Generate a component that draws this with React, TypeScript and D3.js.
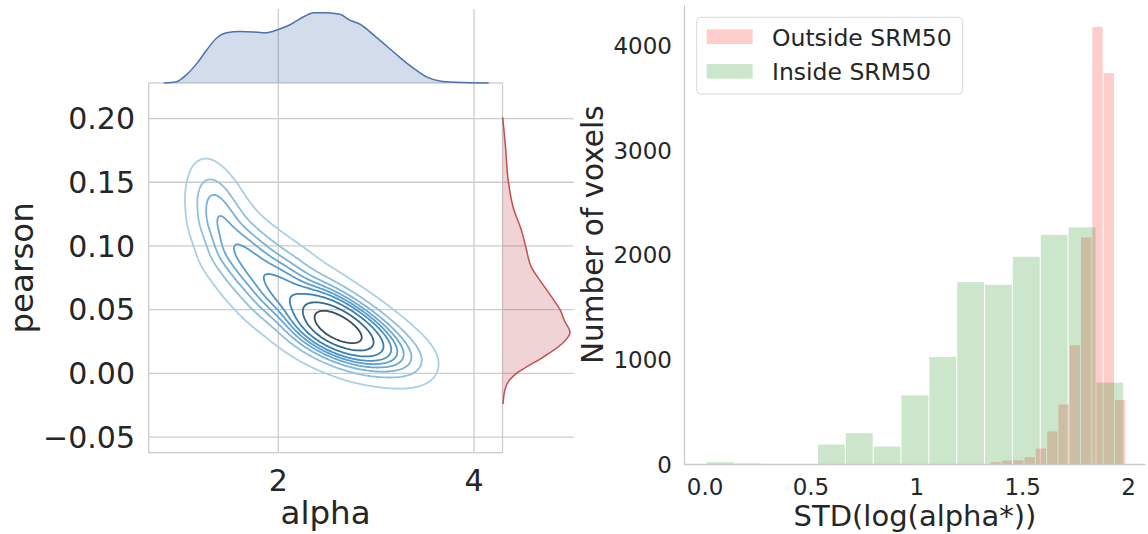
import React from 'react';
import * as d3 from 'd3';

// ---------- left panel: joint KDE of alpha vs pearson ----------
const JOINT_X_TICKS = [2, 4];
const JOINT_Y_TICKS = [-0.05, 0, 0.05, 0.1, 0.15, 0.2];
const JOINT_Y_LABELS = ['\u22120.05', '0.00', '0.05', '0.10', '0.15', '0.20'];

// density ridge: points along the banana (upper-left to lower-right),
// their relative height and their cross-ridge spread (alpha units)
const RIDGE_ALPHA = [1.251, 1.322, 1.4, 1.527, 1.706, 1.896, 2.068, 2.252, 2.406, 2.559, 2.712,
    2.866, 3.019, 3.193, 3.366, 3.53];
const RIDGE_PEARSON = [0.1596, 0.14, 0.1203, 0.1007, 0.0866, 0.074, 0.063, 0.052, 0.0442, 0.0379,
    0.0316, 0.0254, 0.0199, 0.0144, 0.0089, 0.0042];
const RIDGE_WEIGHT = [0.14, 0.38, 0.5, 0.56, 0.58, 0.6, 0.63, 0.72, 0.86, 1.0, 0.95, 0.78, 0.58,
    0.4, 0.22, 0.09];
const RIDGE_SPREAD = [0.15, 0.17, 0.19, 0.21, 0.225, 0.235, 0.235, 0.225, 0.215, 0.205, 0.2,
    0.195, 0.19, 0.185, 0.175, 0.165];
const RIDGE_ALONG = 0.165;
const PEARSON_PER_ALPHA = 0.0768; // equal visual scale of the two axes
// iso-proportion levels (seaborn levels=10, thresh=0.05)
const CONTOUR_PROPORTIONS = [0.05, 0.156, 0.261, 0.367, 0.472, 0.578, 0.683, 0.789, 0.894];

// marginal densities
const ALPHA_GRID = [0.83, 0.96, 1.06, 1.17, 1.27, 1.37, 1.47, 1.61, 1.75, 1.86, 2.0, 2.12, 2.26,
    2.36, 2.49, 2.63, 2.73, 2.84, 2.97, 3.11, 3.25, 3.38, 3.52, 3.65, 3.82, 4.15];
const ALPHA_DENSITY = [0, 0.011, 0.067, 0.164, 0.275, 0.372, 0.414, 0.425, 0.422, 0.414, 0.442, 0.481,
    0.547, 0.581, 0.581, 0.567, 0.519, 0.483, 0.4, 0.303, 0.206, 0.123, 0.048, 0.017, 0.006, 0];
const PEARSON_GRID = [0.201, 0.178, 0.151, 0.13, 0.112, 0.099, 0.083, 0.073, 0.06, 0.049, 0.042,
    0.032, 0.023, 0.0128, 0.005, 0.0, -0.0055, -0.0133, -0.024];
const PEARSON_DENSITY = [0.05, 0.75, 1.43, 2.68, 4.75, 5.83, 7.25, 9.33, 12.25, 14.5, 15.33,
    16.83, 14.75, 10.18, 6.0, 3.5, 1.68, 0.58, 0.15];

// ---------- right panel: histogram of STD(log(alpha*)) ----------
const HIST_X_TICKS = [0, 0.5, 1, 1.5, 2];
const HIST_X_LABELS = ['0.0', '0.5', '1', '1.5', '2'];
const HIST_Y_TICKS = [0, 1000, 2000, 3000, 4000];

const INSIDE_BIN_START = 0.005;
const INSIDE_BIN_WIDTH = 0.1315;
const INSIDE_COUNTS = [22, 10, 0, 0, 191, 300, 172, 660, 1027, 1742, 1716, 1984, 2194, 2265, 782];

const OUTSIDE_BIN_START = 1.346;
const OUTSIDE_BIN_WIDTH = 0.0534;
const OUTSIDE_COUNTS = [22, 38, 41, 70, 153, 316, 574, 1139, 2169, 4179, 3739, 615];

const LEGEND = [
    { label: 'Outside SRM50', color: '#ff0000' },
    { label: 'Inside SRM50', color: '#008000' },
];

const TEXT = '#262626';
const GRID = '#cccccc';
const FONT = 'DejaVu Sans';

const JOINT = { left: 148.7, right: 502.5, top: 83, bottom: 452.7 };
const MARG_TOP = 9;
const MARG_RIGHT = 573.5;
const HIST = { left: 684.5, right: 1145.5, top: 5, bottom: 464.5 };

// unit tangent of the ridge at every point (pearson rescaled to alpha units)
const RIDGE_TANGENT = RIDGE_ALPHA.map((_, k) =>
{
    const k0 = Math.max(0, k - 1);
    const k1 = Math.min(RIDGE_ALPHA.length - 1, k + 1);
    const du = RIDGE_ALPHA[k1] - RIDGE_ALPHA[k0];
    const dv = (RIDGE_PEARSON[k1] - RIDGE_PEARSON[k0]) / PEARSON_PER_ALPHA;
    const len = Math.hypot(du, dv);
    return [du / len, dv / len];
});

function density(a: number, p: number)
{
    let total = 0;
    for (let k = 0; k < RIDGE_ALPHA.length; k += 1)
    {
        const du = a - RIDGE_ALPHA[k];
        const dv = (p - RIDGE_PEARSON[k]) / PEARSON_PER_ALPHA;
        const [tu, tv] = RIDGE_TANGENT[k];
        const along = du * tu + dv * tv;
        const across = -du * tv + dv * tu;
        total += RIDGE_WEIGHT[k] * Math.exp(-0.5 * (along * along) / (RIDGE_ALONG * RIDGE_ALONG)
            - 0.5 * (across * across) / (RIDGE_SPREAD[k] * RIDGE_SPREAD[k]));
    }
    return total;
}

function JointPanel()
{
    const xDom = [0.6755, 4.291];
    const yDom = [-0.0623, 0.2279];
    const jx = d3.scaleLinear().domain(xDom).range([JOINT.left, JOINT.right]);
    const jy = d3.scaleLinear().domain(yDom).range([JOINT.bottom, JOINT.top]);
    const topY = d3.scaleLinear().domain([0, 0.611]).range([JOINT.top, MARG_TOP]);
    const rightX = d3.scaleLinear().domain([0, 17.7]).range([JOINT.right, MARG_RIGHT]);

    const NX = 220;
    const NY = 200;
    const da = (xDom[1] - xDom[0]) / NX;
    const dp = (yDom[1] - yDom[0]) / NY;
    const values = new Float64Array(NX * NY);
    for (let j = 0; j < NY; j += 1)
    {
        for (let i = 0; i < NX; i += 1)
        {
            values[j * NX + i] = density(xDom[0] + (i + 0.5) * da, yDom[0] + (j + 0.5) * dp);
        }
    }

    // seaborn's _quantile_to_level
    const sorted = Array.from(values).sort((a, b) => b - a);
    const sum = d3.sum(sorted);
    const cum: number[] = [];
    let acc = 0;
    for (const v of sorted)
    {
        acc += v;
        cum.push(acc / sum);
    }
    const levels = CONTOUR_PROPORTIONS.map((q) =>
    {
        const idx = d3.bisectLeft(cum, 1 - q);
        return sorted[Math.min(idx, sorted.length - 1)];
    });
    const maxD = sorted[0];

    const contours = d3.contours().size([NX, NY]).thresholds(levels)(Array.from(values));
    const proj = d3.geoTransform({
        point(x: number, y: number)
        {
            (this as any).stream.point(jx(xDom[0] + x * da), jy(yDom[0] + y * dp));
        },
    });
    const path = d3.geoPath(proj);
    const pal = d3.piecewise(d3.interpolateRgb, ['#abd0e6', '#3787c0', '#333333']);

    const topArea = d3.area<number>()
        .x((_, i) => jx(ALPHA_GRID[i]))
        .y0(topY(0))
        .y1((d) => topY(d))
        .curve(d3.curveMonotoneX);
    const topLine = d3.line<number>()
        .x((_, i) => jx(ALPHA_GRID[i]))
        .y((d) => topY(d))
        .curve(d3.curveMonotoneX);
    const rightArea = d3.area<number>()
        .y((_, i) => jy(PEARSON_GRID[i]))
        .x0(rightX(0))
        .x1((d) => rightX(d))
        .curve(d3.curveMonotoneY);
    const rightLine = d3.line<number>()
        .y((_, i) => jy(PEARSON_GRID[i]))
        .x((d) => rightX(d))
        .curve(d3.curveMonotoneY);

    return (
        <g>
            { JOINT_Y_TICKS.map((t) => (
                <line key={ `gy${ t }` } x1={ JOINT.left } x2={ MARG_RIGHT } y1={ jy(t) } y2={ jy(t) }
                    stroke={ GRID } strokeWidth={ 1.3 } />
            )) }
            { JOINT_X_TICKS.map((t) => (
                <line key={ `gx${ t }` } x1={ jx(t) } x2={ jx(t) } y1={ MARG_TOP } y2={ JOINT.bottom }
                    stroke={ GRID } strokeWidth={ 1.3 } />
            )) }
            <rect x={ JOINT.left } y={ JOINT.top } width={ JOINT.right - JOINT.left }
                height={ JOINT.bottom - JOINT.top } fill="none" stroke={ GRID } strokeWidth={ 1.3 } />

            { contours.map((c, i) => (
                <path key={ `c${ i }` } d={ path(c as any) || '' } fill="none"
                    stroke={ pal((c.value - levels[0]) / (maxD - levels[0])) } strokeWidth={ 1.8 } />
            )) }

            <path d={ topArea(ALPHA_DENSITY) || '' } fill="#4c72b0" fillOpacity={ 0.25 } />
            <path d={ topLine(ALPHA_DENSITY) || '' } fill="none" stroke="#4c72b0" strokeWidth={ 1.5 } />
            <path d={ rightArea(PEARSON_DENSITY) || '' } fill="#c44e52" fillOpacity={ 0.25 } />
            <path d={ rightLine(PEARSON_DENSITY) || '' } fill="none" stroke="#c44e52" strokeWidth={ 1.5 } />

            { JOINT_Y_TICKS.map((t, i) => (
                <text key={ `ty${ t }` } x={ 135 } y={ jy(t) } dy="0.36em" textAnchor="end"
                    fontSize={ 30 } fill={ TEXT }>{ JOINT_Y_LABELS[i] }</text>
            )) }
            { JOINT_X_TICKS.map((t) => (
                <text key={ `tx${ t }` } x={ jx(t) } y={ 491 } textAnchor="middle"
                    fontSize={ 30 } fill={ TEXT }>{ t }</text>
            )) }
            <text x={ (JOINT.left + JOINT.right) / 2 } y={ 524 } textAnchor="middle" fontSize={ 32.5 }
                fill={ TEXT }>alpha</text>
            <text transform={ `translate(33,${ (JOINT.top + JOINT.bottom) / 2 }) rotate(-90)` }
                textAnchor="middle" fontSize={ 32.5 } fill={ TEXT }>pearson</text>
        </g>
    );
}

function HistPanel()
{
    const hx = d3.scaleLinear().domain([-0.097, 2.08]).range([HIST.left, HIST.right]);
    const hy = d3.scaleLinear().domain([0, 4389]).range([HIST.bottom, HIST.top]);

    const bars = (start: number, width: number, counts: number[], color: string, key: string) =>
        counts.map((c, i) =>
        {
            if (c <= 0) return null;
            const x0 = hx(start + i * width);
            const x1 = hx(start + (i + 1) * width);
            return (
                <rect key={ `${ key }${ i }` } x={ x0 + 0.5 } y={ hy(c) } width={ x1 - x0 - 1 }
                    height={ hy(0) - hy(c) } fill={ color } fillOpacity={ 0.2 } />
            );
        });

    return (
        <g>
            { bars(OUTSIDE_BIN_START, OUTSIDE_BIN_WIDTH, OUTSIDE_COUNTS, LEGEND[0].color, 'o') }
            { bars(INSIDE_BIN_START, INSIDE_BIN_WIDTH, INSIDE_COUNTS, LEGEND[1].color, 'i') }

            <line x1={ HIST.left } x2={ HIST.left } y1={ HIST.top } y2={ HIST.bottom } stroke={ GRID } strokeWidth={ 1.3 } />
            <line x1={ HIST.left } x2={ HIST.right } y1={ HIST.bottom } y2={ HIST.bottom } stroke={ GRID } strokeWidth={ 1.3 } />

            { HIST_Y_TICKS.map((t) => (
                <text key={ `hy${ t }` } x={ 672 } y={ hy(t) } dy="0.36em" textAnchor="end"
                    fontSize={ 23 } fill={ TEXT }>{ t }</text>
            )) }
            { HIST_X_TICKS.map((t, i) => (
                <text key={ `hx${ t }` } x={ hx(t) } y={ 495 } textAnchor="middle"
                    fontSize={ 23 } fill={ TEXT }>{ HIST_X_LABELS[i] }</text>
            )) }
            <text x={ (HIST.left + HIST.right) / 2 } y={ 526 } textAnchor="middle" fontSize={ 29 }
                fill={ TEXT }>STD(log(alpha*))</text>
            <text transform={ `translate(603,${ (HIST.top + HIST.bottom) / 2 }) rotate(-90)` }
                textAnchor="middle" fontSize={ 29.5 } fill={ TEXT }>Number of voxels</text>

            <rect x={ 696.7 } y={ 17.3 } width={ 266 } height={ 76.7 } rx={ 4 } fill="#ffffff"
                fillOpacity={ 0.8 } stroke="#d9d9d9" strokeWidth={ 1 } />
            { LEGEND.map((l, i) => (
                <g key={ l.label } transform={ `translate(0,${ i * 34.7 })` }>
                    <rect x={ 706.7 } y={ 29.3 } width={ 46 } height={ 14.7 } fill={ l.color } fillOpacity={ 0.2 } />
                    <text x={ 772 } y={ 45.5 } fontSize={ 23.5 } fill={ TEXT }>{ l.label }</text>
                </g>
            )) }
        </g>
    );
}

export default function App()
{
    return (
        <svg width={ 1148 } height={ 534 } style={ { position: 'absolute', left: 0, top: 0, background: '#fff' } }
            fontFamily={ FONT }>
            <JointPanel />
            <HistPanel />
        </svg>
    );
}
